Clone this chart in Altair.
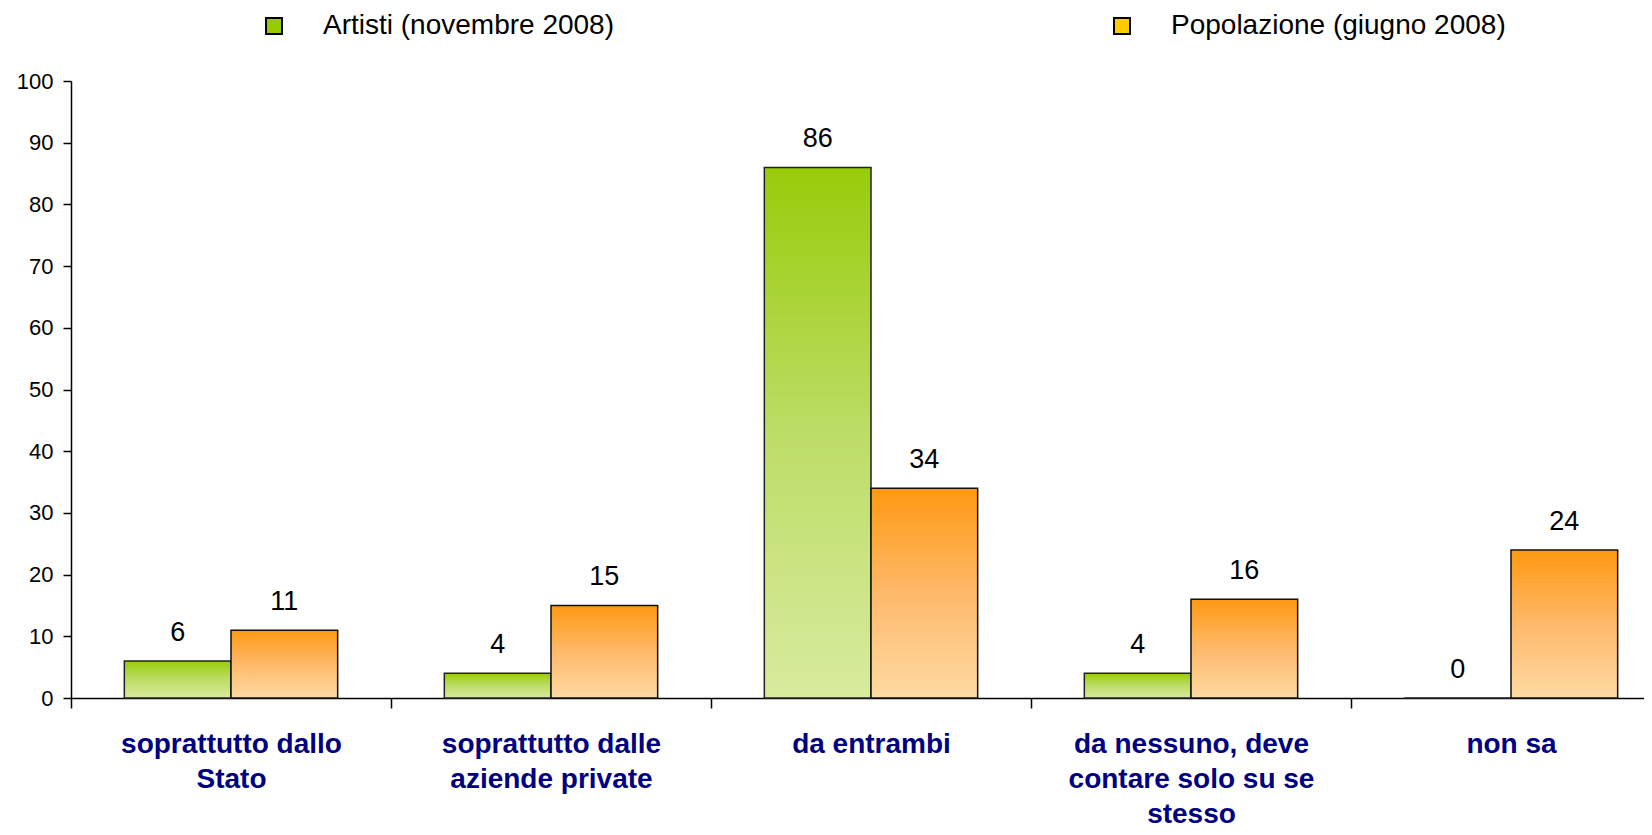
import altair as alt
import pandas as pd

categories = [
    "soprattutto dallo\nStato",
    "soprattutto dalle\naziende private",
    "da entrambi",
    "da nessuno, deve\ncontare solo su se\nstesso",
    "non sa",
]
series = ["Artisti (novembre 2008)", "Popolazione (giugno 2008)"]
artisti = [6, 4, 86, 4, 0]
popolazione = [11, 15, 34, 16, 24]
legend_colors = ["#99CC00", "#FFCC00"]

rows = []
for c, a, p in zip(categories, artisti, popolazione):
    rows.append({"cat": c, "series": series[0], "value": a})
    rows.append({"cat": c, "series": series[1], "value": p})
df = pd.DataFrame(rows)

FONT = "Liberation Sans"

green_grad = alt.Gradient(
    gradient="linear", x1=0, x2=0, y1=0, y2=1,
    stops=[alt.GradientStop(color="#99CC0A", offset=0),
           alt.GradientStop(color="#BCDD66", offset=0.5),
           alt.GradientStop(color="#D8EB9E", offset=1)],
)
orange_grad = alt.Gradient(
    gradient="linear", x1=0, x2=0, y1=0, y2=1,
    stops=[alt.GradientStop(color="#FF9912", offset=0),
           alt.GradientStop(color="#FEB96A", offset=0.5),
           alt.GradientStop(color="#FEDAA3", offset=1)],
)

x_enc = alt.X(
    "cat:N", sort=categories, title=None,
    scale=alt.Scale(range=[0, 1600], paddingInner=0, paddingOuter=0),
    axis=alt.Axis(
        labelAngle=0, tickBand="extent", tickSize=10, labelFont=FONT,
        labelFontSize=28, labelFontWeight="bold", labelColor="#000080",
        labelLineHeight=35, labelPadding=22, labelLimit=0, labelOverlap=False,
        labelExpr="split(datum.label, '\\n')",
    ),
)
xo_enc = alt.XOffset("series:N", sort=series,
                     scale=alt.Scale(paddingInner=0, paddingOuter=0.5))
y_enc = alt.Y(
    "value:Q", title=None, scale=alt.Scale(domain=[0, 100]),
    axis=alt.Axis(values=list(range(0, 101, 10)), tickSize=8, labelFont=FONT,
                  labelFontSize=22, labelPadding=10, labelColor="black"),
)

base = alt.Chart(df).encode(x=x_enc, xOffset=xo_enc, y=y_enc)

bars_a = base.transform_filter(alt.datum.series == series[0]).mark_bar(
    fill=green_grad, stroke="#222222", strokeWidth=1.5)
bars_p = base.transform_filter(alt.datum.series == series[1]).mark_bar(
    fill=orange_grad, stroke="#111111", strokeWidth=1.5)

labels = base.mark_text(dy=-20, baseline="alphabetic", fontSize=27,
                        font=FONT, color="black").encode(text="value:Q")

legend_layer = base.mark_square(opacity=0, size=256, strokeWidth=2).encode(
    color=alt.Color(
        "series:N", sort=series,
        scale=alt.Scale(domain=series, range=legend_colors),
        legend=alt.Legend(
            title=None, orient="none", legendX=189, legendY=-69,
            direction="horizontal", symbolType="square", symbolSize=256,
            symbolOpacity=1, symbolStrokeColor="black", symbolStrokeWidth=2,
            labelFont=FONT, labelFontSize=28, labelColor="black",
            labelOffset=35, labelLimit=600, columnPadding=493,
        ),
    ),
    stroke=alt.value("black"),
)

chart = alt.layer(bars_a, bars_p, labels, legend_layer).properties(
    width=1573, height=617,
    autosize=alt.AutoSizeParams(type="none"),
    padding={"left": 63, "top": 73, "right": 0, "bottom": 129},
).configure_view(stroke=None).configure_axis(
    grid=False, domainColor="black", tickColor="black",
    domainWidth=1.5, tickWidth=1.5,
)

chart.save("out.html", embed_options={"renderer": "svg", "actions": False})
